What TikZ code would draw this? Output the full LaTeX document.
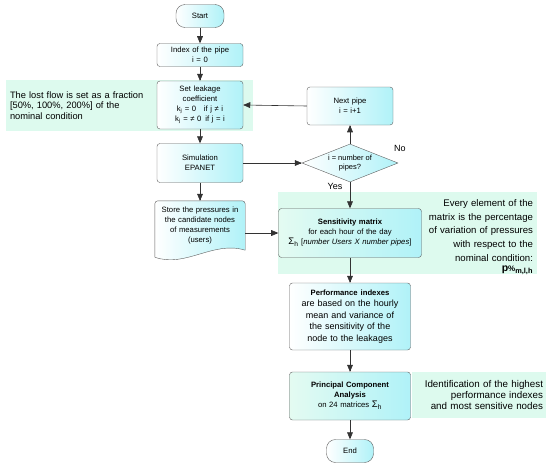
\documentclass[tikz,border=0pt]{standalone}
\usepackage{fontspec}
\setmainfont{Liberation Sans}
\usetikzlibrary{shapes,arrows,backgrounds}
\definecolor{mint}{RGB}{221,250,238}
\definecolor{boxcyan}{RGB}{176,242,248}
\definecolor{boxline}{RGB}{95,95,95}

\begin{document}
\begin{tikzpicture}[x=1pt,y=-1pt
        , block/.style={
             rectangle
            , align=center
            , draw=boxline
            , left color=white
            , right color=boxcyan
            , rounded corners=3pt
            , text width=82pt
            , minimum width=86pt
            , inner sep=2pt
            , font=\fontsize{7.7}{10}\selectfont
        }
        , keyblock/.style={block, left color=mint!80!white, right color=boxcyan}
        , terminal/.style={block, rounded corners=9pt, text width=40pt, minimum width=48pt, minimum height=23pt}
        , decision/.style={diamond, aspect=2.5, draw=boxline, left color=white, right color=boxcyan
            , align=center, inner sep=0pt, minimum width=96pt, minimum height=38pt
            , font=\fontsize{7.5}{9}\selectfont}
        , docbox/.style={align=center, text width=90pt, minimum height=49pt, inner sep=0pt
            , font=\fontsize{7.7}{10}\selectfont}
        , note/.style={fill=mint, inner sep=4pt, font=\fontsize{9.3}{10.7}\selectfont}
        , tag/.style={font=\fontsize{9}{10}\selectfont}
        , line/.style={draw=black!80, semithick, -triangle 45}
        ]
        \useasboundingbox (0,0) rectangle (550,466);

        % green notes behind the boxes
        \node[note, minimum width=247pt, minimum height=51pt, text width=239pt, align=left] (lostnote) at (129.5,105.5)
            {The lost flow is set as a fraction\\ {}[50\%, 100\%, 200\%] of the\\ nominal condition\\[2pt]};
        \node[note, inner ysep=0pt, minimum width=259pt, minimum height=82pt, text width=251pt, align=right, font=\fontsize{9.6}{13.6}\selectfont] (sensnote) at (407.5,233)
            {\rule{0pt}{15pt}Every element of the\\ matrix is the percentage\\ of variation of pressures\\ with respect to the\\ nominal condition:\\[-3pt]
             \textbf{\fontsize{10.5}{10}\selectfont p\raisebox{0.1ex}{\fontsize{8}{8}\selectfont\%}\textsubscript{m,l,h}}};
        \node[note, minimum width=134pt, minimum height=46pt, text width=128pt, inner xsep=3pt, align=right, font=\fontsize{9.8}{11}\selectfont] (pcanote) at (479,395)
            {Identification of the highest\\ performance indexes\\ and most sensitive nodes};

        % left column
        \node[terminal] (start) at (200,16) {Start};
        \node[block, below of=start, node distance=39pt, minimum height=23pt] (index) {Index of the pipe\\ i = 0};
        \node[block, below of=index, node distance=50pt, minimum height=48pt] (setk)
            {Set leakage\\ coefficient\\ k\textsubscript{j} = 0\quad if j ≠ i\\ k\textsubscript{j} = ≠ 0\enspace if j = i};
        \node[block, below of=setk, node distance=58pt, minimum height=39pt] (sim) {Simulation\\ EPANET};
        \node[docbox, below of=sim, node distance=62.5pt] (store)
            {Store the pressures in\\ the candidate nodes\\ of measurements\\ (users)};
        \begin{scope}[on background layer]
            \path[draw=boxline, left color=white, right color=boxcyan]
                ([yshift=-7pt]store.south west) [rounded corners=3pt] -- (store.north west) -- (store.north east)
                [sharp corners] -- (store.south east)
                .. controls +(-32pt,10pt) and +(31pt,-11pt) .. ([yshift=-7pt]store.south west) -- cycle;
        \end{scope}

        % right column
        \node[decision, right of=sim, node distance=150pt] (check) {i = number of\\ pipes?};
        \node[block, above of=check, node distance=57pt, minimum height=38pt] (next) {Next pipe\\ i = i+1};
        \node[keyblock, below of=check, node distance=70pt, text width=139pt, minimum width=141pt, minimum height=49pt] (sens)
            {\textbf{Sensitivity matrix}\\ for each hour of the day\\
             {\fontsize{9.5}{10}\selectfont Σ\textsubscript{h}} [\textit{number Users X number pipes}]};
        \node[block, below of=sens, node distance=83.5pt, text width=117pt, minimum width=121pt, minimum height=67pt
            , font=\fontsize{9}{11.5}\selectfont] (perf)
            {{\fontsize{7.7}{9}\selectfont\textbf{Performance indexes}}\\ are based on the hourly\\ mean and variance of\\ the sensitivity of the\\ node to the leakages};
        \node[keyblock, below of=perf, node distance=79.5pt, text width=117pt, minimum width=121pt, minimum height=48pt] (pca)
            {\textbf{Principal Component}\\ \textbf{Analysis}\\ on 24 matrices {\fontsize{9.5}{10}\selectfont Σ\textsubscript{h}}};
        \node[terminal, below of=pca, node distance=55pt, text width=39pt, minimum width=47pt] (end) {End};

        \node[tag] (nolbl) at (400,148) {No};
        \node[tag] (yeslbl) at (335,186) {Yes};

        \draw[line] (start) -- (index);
        \draw[line] (index) -- (setk);
        \draw[line] (setk) -- (sim);
        \draw[line] (sim) -- (store);
        \draw[line] (sim.east) -- (check.west);
        \draw[line] (check.north) -- (next.south);
        \draw[line] (next.west) -- (setk.east);
        \draw[line] (check.south) -- (sens.north);
        \draw[line] (store.east |- sens.west) -- (sens.west);
        \draw[line] (sens) -- (perf);
        \draw[line] (perf) -- (pca);
        \draw[line] (pca) -- (end);
    \end{tikzpicture}
\end{document}
